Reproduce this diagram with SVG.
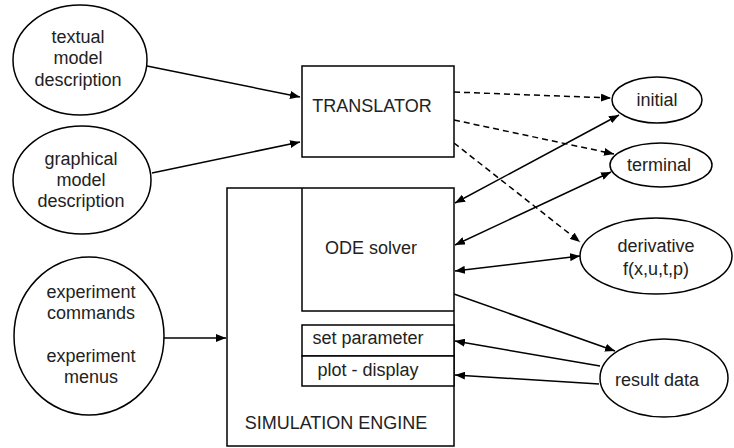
<svg xmlns="http://www.w3.org/2000/svg" width="734" height="448" viewBox="0 0 734 448">
<defs>
<marker id="ah" viewBox="0 0 10 8" refX="10" refY="4" markerWidth="10" markerHeight="8" markerUnits="userSpaceOnUse" orient="auto-start-reverse">
<path d="M0,0 L10,4 L0,8 Z" fill="#000"/>
</marker>
<style>
.n{fill:#fff;stroke:#000;stroke-width:1.5}
.t{font-family:"Liberation Sans",Arial,sans-serif;font-size:18px;fill:#222;text-anchor:middle;dominant-baseline:central}
.c{fill:none;stroke:#000;stroke-width:1.5}
.d{stroke-dasharray:6,4}
</style>
</defs>
<rect width="734" height="448" fill="#fff"/>
<g id="connectors">
<line class="c" x1="147" y1="66" x2="300" y2="97" marker-end="url(#ah)"/>
<line class="c" x1="152" y1="173" x2="300" y2="142" marker-end="url(#ah)"/>
<line class="c" x1="164" y1="338" x2="226" y2="338" marker-end="url(#ah)"/>
<line class="c d" x1="454" y1="92" x2="611" y2="98" marker-end="url(#ah)"/>
<line class="c d" x1="454" y1="120" x2="614" y2="154" marker-end="url(#ah)"/>
<line class="c d" x1="454" y1="143" x2="580" y2="242" marker-end="url(#ah)"/>
<line class="c" x1="455" y1="203" x2="619" y2="115" marker-start="url(#ah)" marker-end="url(#ah)"/>
<line class="c" x1="455" y1="245" x2="611" y2="172" marker-start="url(#ah)" marker-end="url(#ah)"/>
<line class="c" x1="455" y1="271" x2="580" y2="256" marker-start="url(#ah)" marker-end="url(#ah)"/>
<line class="c" x1="454" y1="294" x2="615" y2="351" marker-end="url(#ah)"/>
<line class="c" x1="600" y1="366" x2="455" y2="341" marker-end="url(#ah)"/>
<line class="c" x1="599" y1="384" x2="455" y2="375" marker-end="url(#ah)"/>
</g>
<g id="textual">
<ellipse class="n" cx="80" cy="60" rx="67" ry="55"/>
<text class="t" x="78" y="37">textual</text>
<text class="t" x="78" y="58">model</text>
<text class="t" x="78" y="80">description</text>
</g>
<g id="graphical">
<ellipse class="n" cx="82" cy="180" rx="69" ry="54"/>
<text class="t" x="81" y="159">graphical</text>
<text class="t" x="81" y="180">model</text>
<text class="t" x="81" y="201">description</text>
</g>
<g id="experiment">
<ellipse class="n" cx="89" cy="336" rx="75" ry="79"/>
<text class="t" x="91" y="292">experiment</text>
<text class="t" x="91" y="313">commands</text>
<text class="t" x="91" y="356">experiment</text>
<text class="t" x="91" y="377">menus</text>
</g>
<g id="translator">
<rect class="n" x="302" y="66" width="152" height="91"/>
<text class="t" x="372" y="106">TRANSLATOR</text>
</g>
<g id="engine">
<rect class="n" x="227" y="188" width="227" height="258"/>
<text class="t" x="336" y="423">SIMULATION ENGINE</text>
</g>
<g id="ode">
<path class="c" d="M302,188 V311 H454"/>
<text class="t" x="371" y="248">ODE solver</text>
</g>
<g id="setparam">
<rect class="n" x="302" y="325" width="152" height="31"/>
<text class="t" x="368" y="338">set parameter</text>
</g>
<g id="plot">
<rect class="n" x="302" y="356" width="152" height="30"/>
<text class="t" x="368" y="370">plot - display</text>
</g>
<g id="initial">
<ellipse class="n" cx="657" cy="100" rx="45" ry="23"/>
<text class="t" x="657" y="100">initial</text>
</g>
<g id="terminal">
<ellipse class="n" cx="661" cy="165" rx="51" ry="22"/>
<text class="t" x="659" y="165">terminal</text>
</g>
<g id="derivative">
<ellipse class="n" cx="656" cy="256" rx="76" ry="38"/>
<text class="t" x="656" y="246">derivative</text>
<text class="t" x="656" y="269">f(x,u,t,p)</text>
</g>
<g id="result">
<ellipse class="n" cx="664" cy="378" rx="64" ry="39"/>
<text class="t" x="657" y="380">result data</text>
</g>
</svg>
